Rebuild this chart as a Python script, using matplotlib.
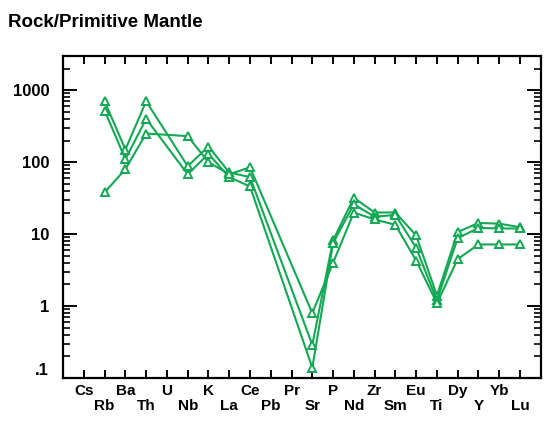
import numpy as np
import matplotlib
matplotlib.use("Agg")
import matplotlib.pyplot as plt
from matplotlib.ticker import LogLocator, NullFormatter, FixedLocator

# spider diagram, normalised to primitive mantle
elements = ['Cs', 'Rb', 'Ba', 'Th', 'U', 'Nb', 'K', 'La', 'Ce', 'Pb', 'Pr',
            'Sr', 'P', 'Nd', 'Zr', 'Sm', 'Eu', 'Ti', 'Dy', 'Y', 'Yb', 'Lu']

# None = not analysed
sample_1 = [None, 700, 150, 700, None, 88, 165, 72, 62, None, None,
            0.29, 8.2, 32, 20, 20, 9.6, 1.4, 10.7, 14.3, 14, 12.5]
sample_2 = [None, 520, 110, 400, None, 68, 130, 62, 46, None, None,
            0.14, 7.5, 26, 17.5, 18.5, 6.5, 1.2, 8.8, 12.2, 12, 12]
sample_3 = [None, 38, 80, 250, None, 230, 100, 68, 85, None, None,
            0.8, 4.0, 20, 16, 13.5, 4.3, 1.1, 4.5, 7.2, 7.2, 7.2]

ytick_vals = [0.1, 1, 10, 100, 1000]
ytick_text = ['.1', '1', '10', '100', '1000']

green = '#12a854'
font = ['Liberation Sans', 'DejaVu Sans']


def plot_sample(ax, vals):
    x = [i for i, v in enumerate(vals) if v is not None]
    y = [v for v in vals if v is not None]
    ax.plot(x, y, color=green, lw=1.5, marker='^', ms=6,
            mfc='white', mec=green, mew=1.4)


def main():
    fig = plt.figure(figsize=(5.44, 4.23), dpi=100)
    ax = fig.add_axes([0.116, 0.106, 0.878, 0.762])

    for s in (sample_1, sample_2, sample_3):
        plot_sample(ax, s)

    ax.set_yscale('log')
    ax.set_ylim(0.1, 3000)
    ax.set_xlim(-1, 22)

    ax.yaxis.set_major_locator(FixedLocator(ytick_vals))
    ax.set_yticklabels(ytick_text, fontfamily=font, fontweight='bold', fontsize=12)
    ax.yaxis.set_minor_locator(LogLocator(base=10, subs=np.arange(2, 10)))
    ax.yaxis.set_minor_formatter(NullFormatter())

    # keep ".1" sitting just above the bottom edge
    ax.get_yticklabels()[0].set_verticalalignment('bottom')

    ax.set_xticks(range(len(elements)))
    labels = [e if i % 2 == 0 else '\n' + e for i, e in enumerate(elements)]
    ax.set_xticklabels(labels, fontfamily=font, fontweight='bold', fontsize=11,
                       linespacing=1.15)

    ax.tick_params(axis='y', which='major', direction='in', length=10, width=1.4,
                   right=True, pad=10)
    ax.tick_params(axis='y', which='minor', direction='in', length=5, width=1.2,
                   right=True)
    ax.tick_params(axis='x', direction='in', length=6, width=1.4, top=True, pad=4)
    for sp in ax.spines.values():
        sp.set_linewidth(1.6)

    fig.text(0.015, 1 - 27 / 423, 'Rock/Primitive Mantle', fontfamily=font,
             fontweight='bold', fontsize=13.5, va='baseline')

    fig.savefig('out.png', dpi=100)


if __name__ == "__main__":
    main()
